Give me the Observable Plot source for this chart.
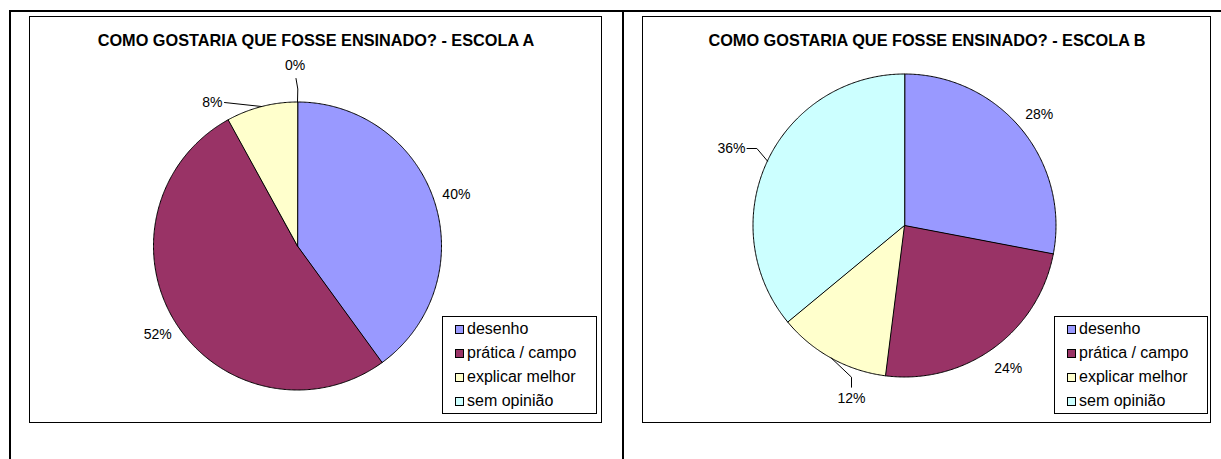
<!DOCTYPE html>
<html><head><meta charset="utf-8">
<script src="https://cdn.jsdelivr.net/npm/d3@7"></script>
<script src="https://cdn.jsdelivr.net/npm/@observablehq/plot@0.6"></script>
<style>
body{margin:0;background:#fff;font-family:"Liberation Sans",Arial,sans-serif;}
#root{position:relative;width:1221px;height:459px;overflow:hidden;background:#fff;}
.ln{position:absolute;background:#000;}
.box{position:absolute;border:1px solid #000;box-sizing:border-box;background:#fff;}
.title{position:absolute;font-weight:bold;font-size:16.3px;line-height:16px;color:#000;white-space:nowrap;transform:translateX(-50%);}
.legend{position:absolute;border:1px solid #000;box-sizing:border-box;background:#fff;z-index:3;}
.item{position:absolute;font-size:16px;line-height:16px;white-space:nowrap;color:#000;}
.sw{position:absolute;width:9px;height:9px;border:1px solid #000;box-sizing:border-box;}
#plot{position:absolute;left:0;top:0;z-index:2;}
</style></head><body><div id="root"></div>
<script>
// ---- data ----
const categories = ["desenho", "prática / campo", "explicar melhor", "sem opinião"];
const colors = ["#9999FF", "#993366", "#FFFFCC", "#CCFFFF"];
const valuesA = [40, 52, 8, 0];
const valuesB = [28, 24, 12, 36];
const titleA = "COMO GOSTARIA QUE FOSSE ENSINADO? - ESCOLA A";
const titleB = "COMO GOSTARIA QUE FOSSE ENSINADO? - ESCOLA B";

// ---- layout ----
const panels = [
  {key: "A", values: valuesA, title: titleA,
   box: [29, 16, 601, 422], cx: 297, cy: 245.5, r: 144, legend: [442, 316, 596, 413],
   labelSpec: [
     {dist: 1.16},
     {dist: 1.15},
     {leader: [[-73, -143.5]], text: [-75, -143.5], anchor: "end"},
     {leader: [[0.3, -157], [-1.5, -167.5]], text: [-2.5, -180.5], anchor: "middle"}
   ]},
  {key: "B", values: valuesB, title: titleB,
   box: [642, 16, 1210, 422], cx: 904, cy: 225, r: 151.5, legend: [1054, 316, 1207, 413],
   labelSpec: [
     {dist: 1.154},
     {dist: 1.165},
     {leader: [[-53, 151.7], [-53, 161.7]], text: [-53, 173.5], anchor: "middle"},
     {leader: [[-147.6, -77], [-157.5, -77]], text: [-159, -77], anchor: "end"}
   ]}
];

const root = document.getElementById("root");
function addDiv(cls, style, text) {
  const d = document.createElement("div");
  d.className = cls;
  Object.assign(d.style, style);
  if (text != null) d.textContent = text;
  root.appendChild(d);
  return d;
}

// page frame lines
addDiv("ln", {left: "9px", top: "10px", width: "1212px", height: "2px"});
addDiv("ln", {left: "9px", top: "10px", width: "2px", height: "449px"});
addDiv("ln", {left: "622px", top: "10px", width: "2px", height: "449px"});

const slicePts = [], leaders = [], labels = [];
for (const p of panels) {
  const [x0, y0, x1, y1] = p.box;
  addDiv("box", {left: x0 + "px", top: y0 + "px", width: (x1 - x0 + 1) + "px", height: (y1 - y0 + 1) + "px"});
  addDiv("title", {left: ((x0 + x1) / 2 + 1) + "px", top: "32px"}, p.title);

  const total = d3.sum(p.values);
  let acc = 0;
  p.values.forEach((v, i) => {
    const a0 = acc / total * 2 * Math.PI;
    acc += v;
    const a1 = acc / total * 2 * Math.PI;
    const mid = (a0 + a1) / 2;
    const pt = (a, rr) => [p.cx + rr * Math.sin(a), p.cy - rr * Math.cos(a)];
    if (v > 0) {
      const key = p.key + i;
      slicePts.push({key, cat: categories[i], x: p.cx, y: p.cy});
      const n = Math.max(2, Math.ceil((a1 - a0) / (Math.PI / 360)));
      for (let k = 0; k <= n; k++) {
        const [x, y] = pt(a0 + (a1 - a0) * k / n, p.r);
        slicePts.push({key, cat: categories[i], x, y});
      }
    }
    const spec = p.labelSpec[i];
    const txt = Math.round(v / total * 100) + "%";
    if (spec.leader) {
      const lk = "L" + p.key + i;
      const [sx, sy] = pt(mid, p.r);
      leaders.push({key: lk, x: sx, y: sy});
      for (const [dx, dy] of spec.leader) leaders.push({key: lk, x: p.cx + dx, y: p.cy + dy});
      labels.push({x: p.cx + spec.text[0], y: p.cy + spec.text[1], t: txt, anchor: spec.anchor});
    } else {
      const [lx, ly] = pt(mid, p.r * spec.dist);
      labels.push({x: lx, y: ly, t: txt, anchor: "middle"});
    }
  });

  // legend
  const [lx0, ly0, lx1, ly1] = p.legend;
  const lg = addDiv("legend", {left: lx0 + "px", top: ly0 + "px", width: (lx1 - lx0 + 1) + "px", height: (ly1 - ly0 + 1) + "px"});
  categories.forEach((c, i) => {
    const cyRow = 12 + i * 24.3;
    const sw = document.createElement("div");
    sw.className = "sw";
    Object.assign(sw.style, {left: "12px", top: (cyRow - 4.5) + "px", background: colors[i]});
    lg.appendChild(sw);
    const it = document.createElement("div");
    it.className = "item";
    Object.assign(it.style, {left: "24px", top: (cyRow + 5 - 13.5) + "px"});
    it.textContent = c;
    lg.appendChild(it);
  });
}

const chart = Plot.plot({
  width: 1221, height: 459, margin: 0,
  x: {domain: [0, 1221], range: [0, 1221], axis: null},
  y: {domain: [0, 459], range: [0, 459], axis: null},
  color: {domain: categories, range: colors},
  style: {background: "transparent", fontFamily: "'Liberation Sans', Arial, sans-serif", color: "#000"},
  marks: [
    Plot.line(slicePts, {x: "x", y: "y", z: "key", fill: "cat", stroke: "#000", strokeWidth: 1, curve: "linear-closed", strokeLinejoin: "miter"}),
    Plot.line(leaders, {x: "x", y: "y", z: "key", stroke: "#000", strokeWidth: 1}),
    Plot.text(labels.filter(d => d.anchor === "middle"), {x: "x", y: "y", text: "t", fontSize: 14, fill: "#000", textAnchor: "middle"}),
    Plot.text(labels.filter(d => d.anchor === "end"), {x: "x", y: "y", text: "t", fontSize: 14, fill: "#000", textAnchor: "end"})
  ]
});
chart.id = "plot";
root.appendChild(chart);
</script>
</body></html>
